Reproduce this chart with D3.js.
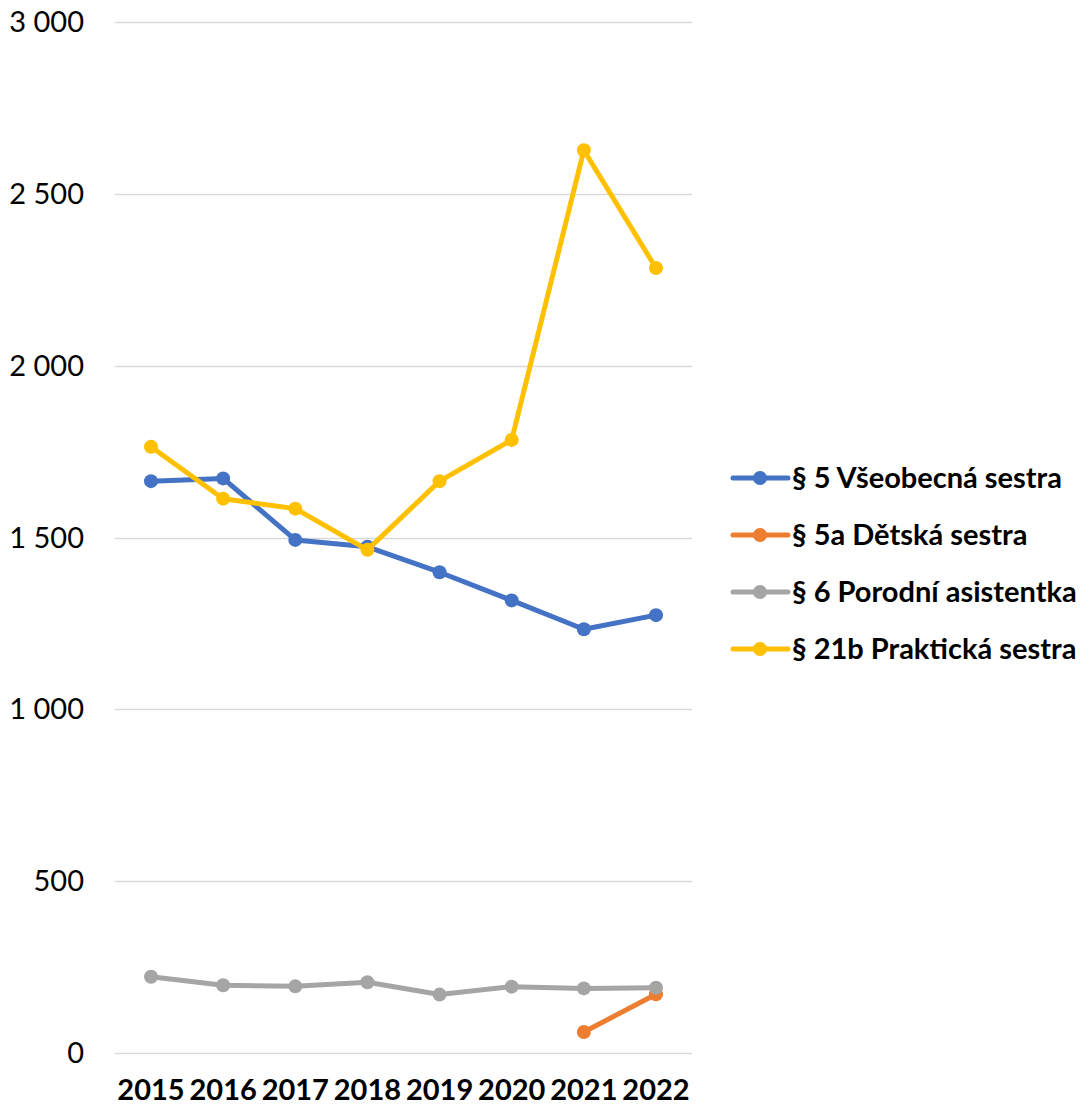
<html>
<head>
  <meta charset="utf-8">
  <script src="https://d3js.org/d3.v7.min.js"></script>
  <style>
    body { margin: 0; background: #fff; }
    text { font-family: Lato, "Open Sans", sans-serif; }
  </style>
</head>
<body>
  <script>

    var years = ['2015', '2016', '2017', '2018', '2019', '2020', '2021', '2022'];
    var seriesNames = ['§ 5 Všeobecná sestra', '§ 5a Dětská sestra', '§ 6 Porodní asistentka', '§ 21b Praktická sestra'];
    var seriesColors = ['#4472C4', '#ED7D31', '#A5A5A5', '#FFC000'];

    var vseobecna = [1664, 1672, 1493, 1473, 1399, 1317, 1233, 1274];
    var detska = [null, null, null, null, null, null, 61, 171];
    var porodni = [222, 197, 194, 206, 170, 193, 188, 190];
    var prakticka = [1764, 1613, 1584, 1464, 1664, 1784, 2627, 2284];

    var yTicks = [0, 500, 1000, 1500, 2000, 2500, 3000];

    var allSeries = [vseobecna, detska, porodni, prakticka];

    var width = 1089,
        height = 1106;

    var svg = d3.select('body')
      .append('svg')
      .attr('width', width)
      .attr('height', height);

    var x = d3.scalePoint()
      .domain(years)
      .range([151, 656]);

    var y = d3.scaleLinear()
      .domain([0, 3000])
      .range([1053, 22]);

    var fmt = function(v) {
      return d3.format(',')(v).replace(/,/g, ' ');
    };

    // gridlines
    svg.append('g')
      .selectAll('line')
      .data(yTicks)
      .enter()
      .append('line')
      .attr('x1', 115)
      .attr('x2', 692)
      .attr('y1', (d) => Math.round(y(d)) + 0.5)
      .attr('y2', (d) => Math.round(y(d)) + 0.5)
      .attr('stroke', '#D9D9D9')
      .attr('stroke-width', 1.5);

    // y labels
    svg.append('g')
      .selectAll('text')
      .data(yTicks)
      .enter()
      .append('text')
      .attr('x', 84)
      .attr('y', (d) => y(d))
      .attr('dy', '0.35em')
      .attr('text-anchor', 'end')
      .attr('font-size', 29)
      .attr('fill', '#000')
      .text(fmt);

    // x labels
    svg.append('g')
      .selectAll('text')
      .data(years)
      .enter()
      .append('text')
      .attr('x', (d) => x(d))
      .attr('y', 1100)
      .attr('text-anchor', 'middle')
      .attr('font-size', 29)
      .attr('font-weight', 'bold')
      .attr('fill', '#000')
      .text((d) => d);

    var line = d3.line()
      .defined((d) => d != null)
      .x((d, i) => x(years[i]))
      .y((d) => y(d));

    allSeries.forEach(function(vals, k) {
      var g = svg.append('g');
      g.append('path')
        .attr('d', line(vals))
        .attr('fill', 'none')
        .attr('stroke', seriesColors[k])
        .attr('stroke-width', 5)
        .attr('stroke-linejoin', 'round');
      g.selectAll('circle')
        .data(vals.map((v, i) => ({ v: v, i: i })).filter((d) => d.v != null))
        .enter()
        .append('circle')
        .attr('cx', (d) => x(years[d.i]))
        .attr('cy', (d) => y(d.v))
        .attr('r', 7)
        .attr('fill', seriesColors[k]);
    });

    // legend
    var legend = svg.append('g')
      .selectAll('g')
      .data(seriesNames)
      .enter()
      .append('g')
      .attr('transform', (d, i) => 'translate(733,' + (478 + i * 57) + ')');

    legend.append('line')
      .attr('x1', 0)
      .attr('x2', 55)
      .attr('stroke', (d, i) => seriesColors[i])
      .attr('stroke-width', 5)
      .attr('stroke-linecap', 'round');

    legend.append('circle')
      .attr('cx', 27)
      .attr('r', 7)
      .attr('fill', (d, i) => seriesColors[i]);

    legend.append('text')
      .attr('x', 59)
      .attr('dy', '0.35em')
      .attr('font-size', 29)
      .attr('font-weight', 'bold')
      .attr('fill', '#000')
      .text((d) => d);

  </script>
</body>
</html>
